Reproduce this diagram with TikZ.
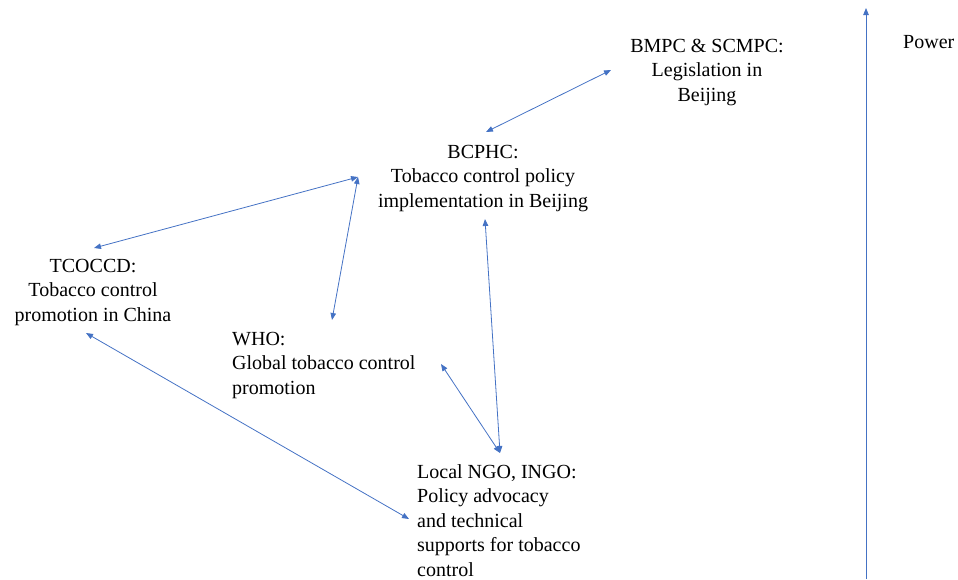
\documentclass[tikz,border=0pt]{standalone}
\usepackage{fontspec}
\setmainfont{Liberation Serif}
\usetikzlibrary{arrows.meta}
\definecolor{linkblue}{HTML}{4472C4}
\begin{document}
\begin{tikzpicture}[x=1pt,y=-1pt,
  lbl/.style={inner sep=0pt,anchor=base,font=\fontsize{20}{24.5}\selectfont},
  lblc/.style={lbl,align=center},
  lbll/.style={lbl,align=left,anchor=base west},
  link/.style={draw=linkblue,line width=0.8pt,{Triangle[length=7pt,width=5.5pt]}-{Triangle[length=7pt,width=5.5pt]}},
  uplink/.style={draw=linkblue,line width=0.8pt,-{Triangle[length=7pt,width=5.5pt]}}]
\useasboundingbox (0,0) rectangle (958,579);
% texts (anchor = baseline of the last line)
\node[lblc] (bmpc) at (707,101) {BMPC \& SCMPC:\\Legislation in\\Beijing};
\node[lblc] (bcphc) at (483,207) {BCPHC:\\Tobacco control policy\\implementation in Beijing};
\node[lblc] (tcoccd) at (93,321) {TCOCCD:\\Tobacco control\\promotion in China};
\node[lbll] (who) at (232,394) {WHO:\\Global tobacco control\\promotion};
\node[lbll] (ngo) at (417,576) {Local NGO, INGO:\\Policy advocacy\\and technical\\supports for tobacco\\control};
\node[lbl,anchor=base west] (power) at (903,48) {Power};
% connector end points
\coordinate (bmpcE) at (611,70);
\coordinate (bcphcN) at (486,132);
\coordinate (bcphcW) at (358,177);
\coordinate (bcphcS) at (485,219);
\coordinate (tcoccdN) at (94,248);
\coordinate (tcoccdS) at (86,333);
\coordinate (whoN) at (332,320);
\coordinate (whoE) at (441,364);
\coordinate (ngoN) at (500,453);
\coordinate (ngoW) at (409,519);
\coordinate (powerB) at (866,579);
\coordinate (powerT) at (866,8);
% connectors
\draw[link] (bmpcE) -- (bcphcN);
\draw[link] (bcphcW) -- (tcoccdN);
\draw[link] (bcphcW) -- (whoN);
\draw[link] (bcphcS) -- (ngoN);
\draw[link] (whoE) -- (ngoN);
\draw[link] (tcoccdS) -- (ngoW);
\draw[uplink] (powerB) -- (powerT);
\end{tikzpicture}
\end{document}
